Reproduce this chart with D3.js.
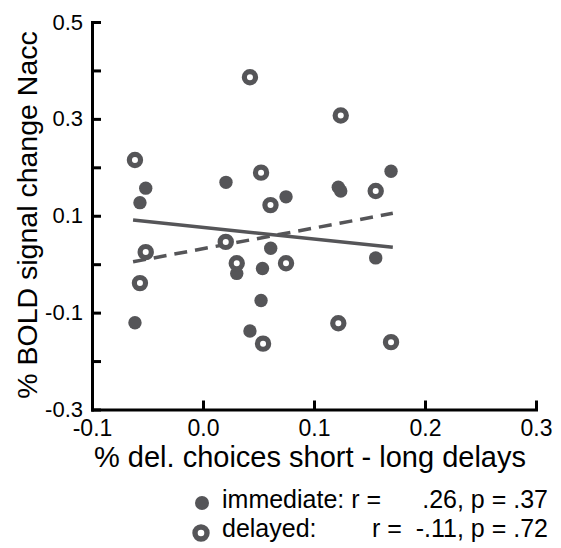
<!DOCTYPE html>
<html>
<head>
<meta charset="utf-8">
<script src="https://cdn.jsdelivr.net/npm/d3@7"></script>
<style>
  html, body { margin: 0; padding: 0; background: #fff; }
  svg { display: block; font-family: "Liberation Sans", Arial, Helvetica, sans-serif; }
</style>
</head>
<body>
<svg id="chart" width="561" height="548"></svg>
<script>
// ---- data ----
const immediateX = [-0.0516, -0.0568, -0.0613, 0.0207, 0.0304, 0.0536, 0.0610, 0.0748, 0.0523, 0.0423, 0.1219, 0.1241, 0.1694, 0.1556];
const immediateY = [0.157, 0.127, -0.121, 0.169, -0.019, -0.009, 0.033, 0.139, -0.075, -0.138, 0.159, 0.151, 0.192, 0.013];
const delayedX = [-0.0613, -0.0516, -0.0568, 0.0423, 0.0523, 0.0608, 0.0205, 0.0304, 0.0748, 0.0541, 0.1241, 0.1556, 0.1219, 0.1694];
const delayedY = [0.215, 0.025, -0.039, 0.386, 0.189, 0.122, 0.046, 0.002, 0.002, -0.164, 0.307, 0.151, -0.122, -0.161];
const fitX = [-0.063, 0.171];
const immediateFitY = [0.091, 0.035];
const delayedFitY = [0.005, 0.105];
const xTicks = [-0.1, 0.0, 0.1, 0.2, 0.3];
const yTicks = [-0.3, -0.2, -0.1, 0.0, 0.1, 0.2, 0.3, 0.4, 0.5];
const yLabelled = [-0.3, -0.1, 0.1, 0.3, 0.5];
const xTitle = "% del. choices short - long delays";
const yTitle = "% BOLD signal change Nacc";
const legendNames = ["immediate: r =", "delayed:"];
const legendStats = [".26, p = .37", "r =  -.11, p = .72"];

// ---- drawing ----
const col = "#555558";
const svg = d3.select("#chart");
const x = d3.scaleLinear().domain([-0.1, 0.3]).range([92, 536]);
const y = d3.scaleLinear().domain([-0.3, 0.5]).range([409.5, 22]);
const fmt = d => d3.format(".1f")(d).replace("\u2212", "-");

// axes
const yAxis = d3.axisLeft(y).tickValues(yTicks).tickSizeInner(-9).tickSizeOuter(0).tickPadding(9)
  .tickFormat(d => yLabelled.some(v => Math.abs(v - d) < 1e-9) ? fmt(d) : "");
const xAxis = d3.axisBottom(x).tickValues(xTicks).tickSizeInner(-9).tickSizeOuter(0).tickPadding(10)
  .tickFormat(fmt);

const gy = svg.append("g").attr("transform", "translate(92,0)").call(yAxis);
const gx = svg.append("g").attr("transform", "translate(0,409.5)").call(xAxis);
[gx, gy].forEach(g => {
  g.attr("font-family", null).attr("font-size", null);
  g.select(".domain").attr("stroke", "#000").attr("stroke-width", 3).attr("stroke-linecap", "square");
  g.selectAll(".tick line").attr("stroke", "#000").attr("stroke-width", 3);
  g.selectAll(".tick text").attr("fill", "#000");
});
gy.selectAll(".tick text").attr("font-size", 22);
gx.selectAll(".tick text").attr("font-size", 23);

// titles
svg.append("text").attr("x", 310).attr("y", 467).attr("text-anchor", "middle")
  .attr("font-size", 29).attr("fill", "#000").text(xTitle);
svg.append("text").attr("transform", "translate(37,215) rotate(-90)").attr("text-anchor", "middle")
  .attr("font-size", 28.5).attr("fill", "#000").text(yTitle);

// fit lines
const line = d3.line().x(d => x(d[0])).y(d => y(d[1]));
svg.append("path").datum(fitX.map((v, i) => [v, immediateFitY[i]]))
  .attr("d", line).attr("fill", "none").attr("stroke", col).attr("stroke-width", 3.5);
svg.append("path").datum(fitX.map((v, i) => [v, delayedFitY[i]]))
  .attr("d", line).attr("fill", "none").attr("stroke", col).attr("stroke-width", 3.5)
  .attr("stroke-dasharray", "13,8");

// points
svg.append("g").selectAll("circle").data(immediateX.map((v, i) => [v, immediateY[i]]))
  .join("circle").attr("cx", d => x(d[0])).attr("cy", d => y(d[1])).attr("r", 6.7).attr("fill", col);
svg.append("g").selectAll("circle").data(delayedX.map((v, i) => [v, delayedY[i]]))
  .join("circle").attr("cx", d => x(d[0])).attr("cy", d => y(d[1])).attr("r", 5.6)
  .attr("fill", "#fff").attr("stroke", col).attr("stroke-width", 5.2);

// legend
const leg = svg.append("g").attr("font-size", 25).attr("fill", "#000");
leg.append("circle").attr("cx", 202).attr("cy", 503).attr("r", 7).attr("fill", col);
leg.append("circle").attr("cx", 201).attr("cy", 533).attr("r", 6).attr("fill", "#fff")
  .attr("stroke", col).attr("stroke-width", 5.4);
leg.append("text").attr("x", 222).attr("y", 508).text(legendNames[0]);
leg.append("text").attr("x", 548).attr("y", 508).attr("text-anchor", "end").text(legendStats[0]);
leg.append("text").attr("x", 222).attr("y", 537).text(legendNames[1]);
leg.append("text").attr("x", 548).attr("y", 537).attr("text-anchor", "end")
  .style("white-space", "pre").text(legendStats[1]);
</script>
</body>
</html>
